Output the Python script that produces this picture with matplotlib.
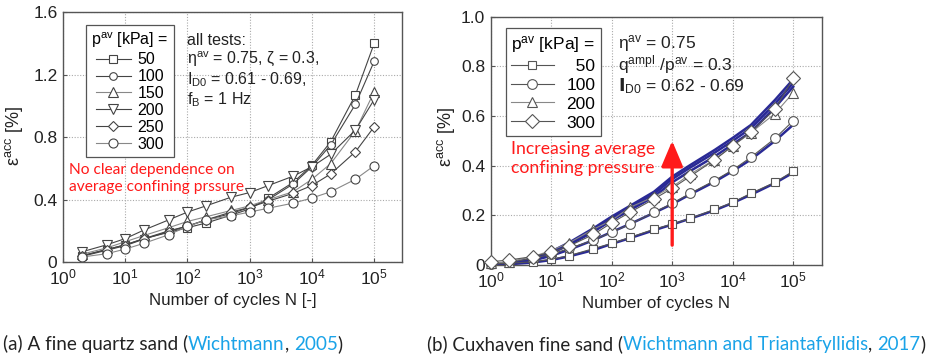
import matplotlib
matplotlib.use("Agg")
import matplotlib.pyplot as plt
from matplotlib.offsetbox import TextArea, HPacker, AnchoredOffsetbox

plt.rcParams['font.family'] = ['Liberation Sans', 'DejaVu Sans']
plt.rcParams['mathtext.default'] = 'regular'
plt.rcParams['font.size'] = 12

# ---------------- data: left panel (fine quartz sand) ----------------
N_left = [2, 5, 10, 20, 50, 100, 200, 500, 1000, 2000, 5000, 10000, 20000, 50000, 100000]
p_left = ["50", "100", "150", "200", "250", "300"]
eps_50 = [0.04, 0.08, 0.11, 0.15, 0.19, 0.22, 0.25, 0.30, 0.34, 0.41, 0.51, 0.62, 0.77, 1.07, 1.40]
eps_100 = [0.04, 0.08, 0.11, 0.15, 0.20, 0.23, 0.27, 0.31, 0.35, 0.40, 0.50, 0.61, 0.75, 1.01, 1.285]
eps_150 = [0.05, 0.09, 0.13, 0.17, 0.22, 0.26, 0.29, 0.33, 0.36, 0.40, 0.45, 0.53, 0.63, 0.84, 1.09]
eps_200 = [0.065, 0.11, 0.15, 0.205, 0.27, 0.32, 0.36, 0.415, 0.445, 0.49, 0.55, 0.61, 0.69, 0.845, 1.04]
eps_250 = [0.036, 0.075, 0.105, 0.147, 0.195, 0.23, 0.27, 0.32, 0.35, 0.39, 0.44, 0.49, 0.564, 0.706, 0.866]
eps_300 = [0.032, 0.053, 0.083, 0.12, 0.175, 0.228, 0.27, 0.296, 0.32, 0.345, 0.377, 0.41, 0.45, 0.53, 0.617]
left_series = [eps_50, eps_100, eps_150, eps_200, eps_250, eps_300]
left_yticks = [0, 0.4, 0.8, 1.2, 1.6]
left_yticklabels = ["0", "0.4", "0.8", "1.2", "1.6"]

# ---------------- data: right panel (Cuxhaven fine sand) ----------------
N_right = [1, 2, 5, 10, 20, 50, 100, 200, 500, 1000, 2000, 5000, 10000, 20000, 50000, 100000]
p_right = ["50", "100", "200", "300"]
r_50 = [0.004, 0.007, 0.013, 0.023, 0.038, 0.066, 0.087, 0.111, 0.144, 0.165, 0.188, 0.224, 0.252, 0.289, 0.333, 0.378]
r_100 = [0.004, 0.011, 0.027, 0.043, 0.067, 0.10, 0.132, 0.164, 0.212, 0.248, 0.289, 0.34, 0.383, 0.434, 0.51, 0.581]
r_200 = [0.007, 0.013, 0.034, 0.058, 0.09, 0.144, 0.18, 0.232, 0.275, 0.315, 0.366, 0.425, 0.48, 0.533, 0.61, 0.694]
r_300 = [0.013, 0.02, 0.034, 0.051, 0.077, 0.123, 0.17, 0.212, 0.266, 0.309, 0.358, 0.423, 0.48, 0.537, 0.627, 0.752]
right_series = [r_50, r_100, r_200, r_300]
# fitted curves (at the same N)
fit_a = [0.0, 0.008, 0.026, 0.054, 0.091, 0.148, 0.195, 0.238, 0.295, 0.356, 0.403, 0.463, 0.512, 0.564, 0.665, 0.748]
fit_b = [0.0, 0.007, 0.024, 0.050, 0.086, 0.141, 0.188, 0.230, 0.286, 0.346, 0.393, 0.452, 0.500, 0.551, 0.650, 0.733]
fit_c = [0.0, 0.006, 0.022, 0.047, 0.081, 0.134, 0.180, 0.221, 0.275, 0.333, 0.379, 0.437, 0.486, 0.536, 0.635, 0.718]
fit_d = [0.0, 0.005, 0.018, 0.037, 0.062, 0.100, 0.133, 0.165, 0.210, 0.245, 0.285, 0.335, 0.378, 0.425, 0.500, 0.565]
fit_e = [0.0, 0.003, 0.010, 0.020, 0.035, 0.060, 0.085, 0.108, 0.140, 0.163, 0.187, 0.220, 0.250, 0.283, 0.330, 0.372]
fits = [fit_a, fit_b, fit_c, fit_d, fit_e]
right_yticks = [0, 0.2, 0.4, 0.6, 0.8, 1.0]
right_yticklabels = ["0", "0.2", "0.4", "0.6", "0.8", "1.0"]

fig = plt.figure(figsize=(9.31, 3.57), dpi=100)

def style_axes(ax):
    for s in ax.spines.values():
        s.set_color('#555555')
        s.set_linewidth(1.0)
    ax.tick_params(direction='in', length=3, color='#555555', labelsize=12.5, pad=4, labelcolor='#222222')
    ax.tick_params(which='minor', length=0)
    ax.grid(True, which='major', linestyle=(0, (1, 1.5)), color='#aaaaaa', linewidth=0.8)
    ax.set_axisbelow(True)

# ---------------- left axes ----------------
ax1 = fig.add_axes([0.0677, 0.266, 0.3641, 0.700])
style_axes(ax1)
markers_l = ['s', 'o', '^', 'v', 'D', 'o']
msizes_l = [5.5, 5.5, 6.5, 6.5, 5.5, 6.5]
colors_l = ['#444444', '#444444', '#888888', '#444444', '#444444', '#888888']
handles = []
for ys, m, ms, c, lab in zip(left_series, markers_l, msizes_l, colors_l, p_left):
    ln, = ax1.plot(N_left, ys, color=c, linewidth=0.8, marker=m, markersize=ms,
                   markerfacecolor='white', markeredgecolor='#444444', markeredgewidth=0.8, label=lab)
    handles.append(ln)
ax1.set_xscale('log')
ax1.set_xlim(1, 2.8e5)
ax1.set_ylim(0, 1.6)
ax1.set_xticks([1, 10, 100, 1000, 1e4, 1e5])
ax1.set_yticks(left_yticks)
ax1.set_yticklabels(left_yticklabels)
ax1.set_xlabel("Number of cycles N [-]", fontsize=12.2, labelpad=4, color='#222222')
ax1.set_ylabel(r"ε$^{acc}$ [%]", fontsize=13, color='#222222')
ax1.yaxis.set_label_coords(-0.112, 0.505)
leg1 = ax1.legend(handles=handles, title=r"p$^{av}$ [kPa] =", loc='upper left',
                  bbox_to_anchor=(0.067, 0.948), borderaxespad=0, fancybox=False, edgecolor='#555555',
                  framealpha=1, handlelength=2.2, handletextpad=0.4, labelspacing=0.12,
                  borderpad=0.35, fontsize=11.5, title_fontsize=11.5)
leg1.get_frame().set_linewidth(0.9)
ax1.text(0.365, 0.915, "all tests:\nη$^{av}$ = 0.75, ζ = 0.3,\nI$_{D0}$ = 0.61 - 0.69,\nf$_{B}$ = 1 Hz",
         transform=ax1.transAxes, ha='left', va='top', fontsize=11.5, linespacing=1.1, color='#222222')
ax1.text(0.018, 0.334, "No clear dependence on\naverage confining prssure", transform=ax1.transAxes,
         ha='left', va='center', color='#ff1a1a', fontsize=11.2, family='Lato', linespacing=1.2)

# ---------------- right axes ----------------
ax2 = fig.add_axes([0.527, 0.2577, 0.356, 0.6953])
style_axes(ax2)
for f in fits:
    ax2.plot(N_right, f, color='#2a2a95', linewidth=1.8, zorder=2)
markers_r = ['s', 'o', '^', 'D']
msizes_r = [6.0, 7.0, 7.0, 7.0]
colors_r = ['#555555', '#555555', '#888888', '#555555']
handles2 = []
for ys, m, ms, c, lab in zip(right_series, markers_r, msizes_r, colors_r, p_right):
    ln, = ax2.plot(N_right, ys, color=c, linewidth=0.8, marker=m, markersize=ms,
                   markerfacecolor='white', markeredgecolor='#555555', markeredgewidth=0.8,
                   zorder=3, label=lab, clip_on=False)
    handles2.append(ln)
ax2.set_xscale('log')
ax2.set_xlim(1, 3e5)
ax2.set_ylim(0, 1.0)
ax2.set_xticks([1, 10, 100, 1000, 1e4, 1e5])
ax2.set_yticks(right_yticks)
ax2.set_yticklabels(right_yticklabels)
ax2.set_xlabel("Number of cycles N", fontsize=12.2, labelpad=4, color='#222222')
ax2.set_ylabel(r"ε$^{acc}$ [%]", fontsize=13, color='#222222')
ax2.yaxis.set_label_coords(-0.10, 0.515)
lab2 = ["\u2007" * (3 - len(p)) + p for p in p_right]
leg2 = ax2.legend(handles=handles2, labels=lab2, title=r"p$^{av}$ [kPa] =", loc='upper left',
                  bbox_to_anchor=(0.045, 0.953), borderaxespad=0, fancybox=False, edgecolor='#555555',
                  framealpha=1, handlelength=2.5, handletextpad=0.7, labelspacing=0.22,
                  borderpad=0.3, fontsize=12.5, title_fontsize=12.5)
leg2.get_frame().set_linewidth(0.9)
ax2.text(0.385, 0.935, "η$^{av}$ = 0.75\nq$^{ampl}$ /p$^{av}$ = 0.3\n$\\mathbf{I}$$_{D0}$ = 0.62 - 0.69",
         transform=ax2.transAxes, ha='left', va='top', fontsize=12.5, linespacing=0.97, color='#222222')
ax2.text(0.06, 0.43, "Increasing average\nconfining pressure", transform=ax2.transAxes,
         ha='left', va='center', color='#ff1a1a', fontsize=12.7, family='Lato', linespacing=1.2)
ax2.annotate("", xy=(1000, 0.50), xytext=(1000, 0.08),
             arrowprops=dict(arrowstyle='-|>,head_width=0.55,head_length=1.3', color='#ff1a1a',
                             lw=2.4, shrinkA=0, shrinkB=0), zorder=5)

# ---------------- captions ----------------
cyan = '#1aa3e8'

def caption_box(x, parts, size):
    boxes = [TextArea(txt, textprops=dict(color=col, fontsize=size, family='Lato')) for txt, col in parts]
    pk = HPacker(children=boxes, align='baseline', pad=0, sep=0)
    ab = AnchoredOffsetbox(loc='lower left', child=pk, pad=0, frameon=False,
                           bbox_to_anchor=(x, 0.012), bbox_transform=fig.transFigure, borderpad=0)
    fig.add_artist(ab)

caption_box(0.003, [("(a) A fine quartz sand (", '#222222'), ("Wichtmann", cyan), (", ", '#222222'),
                    ("2005", cyan), (")", '#222222')], 13.6)
caption_box(0.459, [("(b) Cuxhaven fine sand (", '#222222'), ("Wichtmann and Triantafyllidis", cyan),
                    (", ", '#222222'), ("2017", cyan), (")", '#222222')], 13.4)

fig.savefig("out.png", dpi=100)
